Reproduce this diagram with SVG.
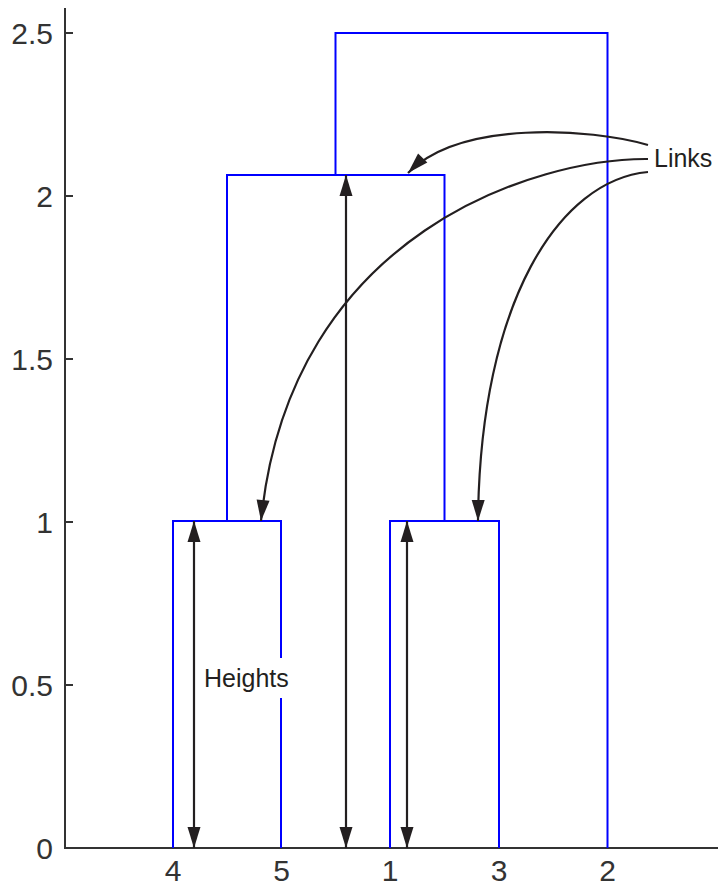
<svg xmlns="http://www.w3.org/2000/svg" width="718" height="888" viewBox="0 0 718 888">
<style>
.ax{stroke:#333;stroke-width:2;fill:none}
.tk{font-family:"Liberation Sans",Arial,sans-serif;font-size:30px;fill:#333}
.lbl{font-family:"Liberation Sans",Arial,sans-serif;font-size:25px;fill:#231f20}
.dg{stroke:#0000ff;stroke-width:2;fill:none}
.ar{stroke:#231f20;stroke-width:2.2;fill:none}
</style>
<defs>
<marker id="ah" markerUnits="userSpaceOnUse" markerWidth="24" markerHeight="16" viewBox="-22 -8 24 16" refX="0" refY="0" orient="auto-start-reverse">
<path d="M0,0 L-21,-6.5 L-21,6.5 Z" fill="#231f20"/>
</marker>
</defs>
<rect width="718" height="888" fill="#fff"/>
<g id="axes">
<path class="ax" d="M65,8 V848 H718"/>
<path class="ax" d="M65,33 H73 M65,196 H73 M65,359 H73 M65,522 H73 M65,685 H73"/>
<g class="tk" text-anchor="end">
<text x="53" y="44">2.5</text>
<text x="53" y="207">2</text>
<text x="53" y="370">1.5</text>
<text x="53" y="533">1</text>
<text x="53" y="696">0.5</text>
<text x="53" y="859">0</text>
</g>
<g class="tk" text-anchor="middle">
<text x="173" y="881">4</text>
<text x="281.5" y="881">5</text>
<text x="390" y="881">1</text>
<text x="499" y="881">3</text>
<text x="607.5" y="881">2</text>
</g>
</g>
<g id="dendrogram">
<path id="link-45" class="dg" d="M173,848 V521 H281 V848"/>
<path id="link-13" class="dg" d="M390,848 V521 H499 V848"/>
<path id="link-4513" class="dg" d="M227,521 V175 H444.5 V521"/>
<path id="link-top" class="dg" d="M335.5,175 V33 H607.5 V848"/>
</g>
<g id="connectors">
<path class="ar" d="M194,521 V848" marker-start="url(#ah)" marker-end="url(#ah)"/>
<path class="ar" d="M346,175 V848" marker-start="url(#ah)" marker-end="url(#ah)"/>
<path class="ar" d="M407,521 V848" marker-start="url(#ah)" marker-end="url(#ah)"/>
<path class="ar" d="M648,145 C590,128 460,120 408,173" marker-end="url(#ah)"/>
<path class="ar" d="M648,159 C540,158 290,230 261,521" marker-end="url(#ah)"/>
<path class="ar" d="M648,172 C560,180 480,300 478,521" marker-end="url(#ah)"/>
</g>
<g id="label-heights">
<rect x="200" y="658" width="96" height="40" fill="#fff"/>
<text class="lbl" x="204" y="687">Heights</text>
</g>
<g id="label-links">
<text class="lbl" x="654" y="167">Links</text>
</g>
</svg>
